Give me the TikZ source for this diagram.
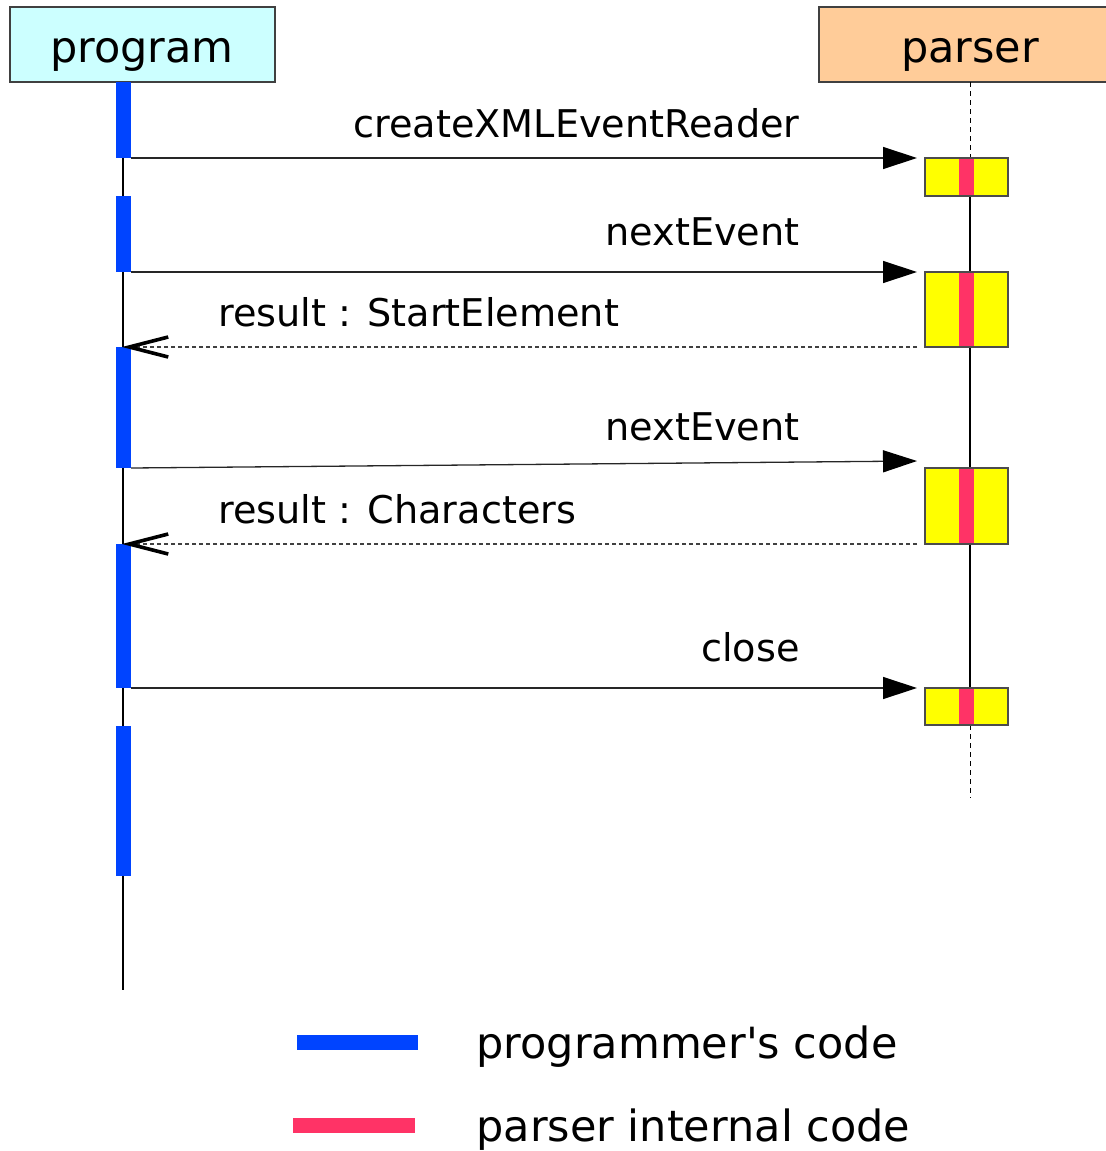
\documentclass[tikz,border=0pt]{standalone}
\usepackage{fontspec}
\setmainfont{DejaVu Sans}
\usetikzlibrary{arrows.meta}
\definecolor{progblue}{HTML}{0044FF}
\definecolor{parsered}{HTML}{FF3366}
\definecolor{actyellow}{HTML}{FFFF00}
\definecolor{headcyan}{HTML}{CCFFFF}
\definecolor{headorange}{HTML}{FFCC99}
\tikzset{
  headbox/.style={draw=black!75, line width=0.6pt},
  headtext/.style={font=\fontsize{21.5}{25}\selectfont, anchor=base, inner sep=0pt},
  lbl/.style={font=\fontsize{19.1}{23}\selectfont, inner sep=0pt},
  lifeline/.style={black, line width=0.6pt},
  pbar/.style={fill=progblue},
  stripe/.style={fill=parsered},
  call/.style={black!85, line width=0.65pt, -{Triangle[length=17pt,width=11pt,color=black]}},
  reply/.style={black!75, line width=0.55pt, dash pattern=on 2pt off 1.5pt,
    -{Straight Barb[length=19.5pt,width=10pt,line width=1.8pt,color=black]}},
}
\begin{document}
\begin{tikzpicture}[x=0.5pt,y=-0.5pt]
\useasboundingbox (0,0) rectangle (1106,1151);
% headers
\draw[headbox, fill=headcyan] (10,7) rectangle (275,82);
\node[headtext] (program) at (142,62) {program};
\draw[headbox, fill=headorange] (819,7) rectangle (1125,82);
\node[headtext] (parser) at (970,62) {parser};
% lifelines
\coordinate (pl0) at (123,82);
\coordinate (pl1) at (123,990);
\draw[lifeline] (pl0) -- (pl1);
\coordinate (ql0) at (970,82);
\coordinate (ql1) at (970,158);
\coordinate (ql2) at (970,725);
\coordinate (ql3) at (970,798);
\draw[lifeline, line width=0.5pt, dash pattern=on 2.5pt off 2pt] (ql0) -- (ql1);
\draw[lifeline] (ql1) -- (ql2);
\draw[lifeline, line width=0.5pt, dash pattern=on 2.5pt off 2pt] (ql2) -- (ql3);
% program activation bars
\fill[pbar] (116,82) rectangle (131,158);
\fill[pbar] (116,196) rectangle (131,272);
\fill[pbar] (116,347) rectangle (131,468);
\fill[pbar] (116,544) rectangle (131,688);
\fill[pbar] (116,726) rectangle (131,876);
% parser activation boxes
\foreach \a/\b in {158/196, 272/347, 468/544, 688/725}{
  \fill[actyellow] (925,\a) rectangle (1008,\b);
  \fill[stripe] (959,\a) rectangle (974,\b);
  \draw[black!70, line width=0.6pt] (925,\a) rectangle (1008,\b);
}
% messages
\coordinate (m1s) at (131,158); \coordinate (m1e) at (917,158);
\draw[call] (m1s) -- (m1e);
\node[lbl, anchor=base east] (l1) at (800,137) {createXMLEventReader};

\coordinate (m2s) at (131,272); \coordinate (m2e) at (917,272);
\draw[call] (m2s) -- (m2e);
\node[lbl, anchor=base east] (l2) at (800,245) {nextEvent};

\coordinate (r1s) at (917,347); \coordinate (r1e) at (122,347);
\draw[reply] (r1s) -- (r1e);
\node[lbl, anchor=base west] (l3) at (218,326) {result : StartElement};

\coordinate (m3s) at (131,468); \coordinate (m3e) at (917,461);
\draw[call] (m3s) -- (m3e);
\node[lbl, anchor=base east] (l4) at (800,440) {nextEvent};

\coordinate (r2s) at (917,544); \coordinate (r2e) at (122,544);
\draw[reply] (r2s) -- (r2e);
\node[lbl, anchor=base west] (l5) at (218,523) {result : Characters};

\coordinate (m4s) at (131,688); \coordinate (m4e) at (917,688);
\draw[call] (m4s) -- (m4e);
\node[lbl, anchor=base east] (l6) at (800,661) {close};

% legend
\fill[progblue] (297,1035) rectangle (418,1050);
\fill[parsered] (293,1118) rectangle (415,1133);
\node[headtext, anchor=base west] (leg1) at (476,1058) {programmer\textquotesingle s code};
\node[headtext, anchor=base west] (leg2) at (476,1141) {parser internal code};
\end{tikzpicture}
\end{document}
